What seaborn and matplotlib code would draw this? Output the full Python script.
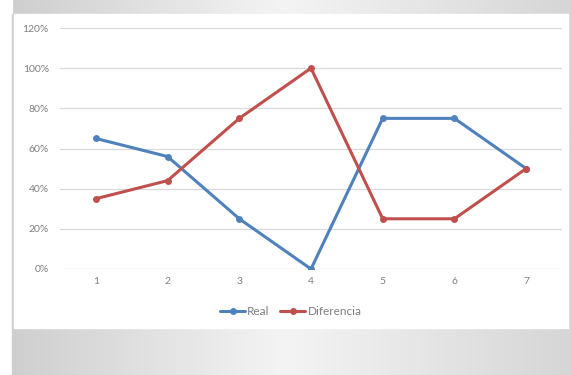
import numpy as np
import pandas as pd
import matplotlib.pyplot as plt
import seaborn as sns
from matplotlib.patches import Rectangle
from matplotlib.ticker import PercentFormatter

# Data
periods = [1, 2, 3, 4, 5, 6, 7]
real = [0.65, 0.56, 0.25, 0.00, 0.75, 0.75, 0.50]
diferencia = [0.35, 0.44, 0.75, 1.00, 0.25, 0.25, 0.50]
series_names = ['Real', 'Diferencia']
y_ticks = [0, 0.2, 0.4, 0.6, 0.8, 1.0, 1.2]

df = pd.DataFrame({
    'periodo': periods * 2,
    'valor': real + diferencia,
    'serie': [series_names[0]] * len(periods) + [series_names[1]] * len(periods),
})

sns.set_style('white')
plt.rcParams['font.family'] = ['Lato', 'DejaVu Sans']

W, H = 571, 375
fig = plt.figure(figsize=(W / 100, H / 100), dpi=100)
fig.patch.set_facecolor('white')

# grey slide background with a white chart panel on top
bg = fig.add_axes([0, 0, 1, 1], zorder=-2)
grad = np.linspace(0, 1, 256)
g = np.tile(grad, (64, 1))
bg.imshow(g, cmap=sns.blend_palette(['#cdcdcd', '#f4f4f4', '#d6d6d6'], as_cmap=True),
          aspect='auto', extent=[0, 1, 0, 1])
bg.add_patch(Rectangle((0, 0), 12 / W, 1, color='white', transform=bg.transAxes))
bg.add_patch(Rectangle((12 / W, 0), 2 / W, 1 - 14 / H, color='#cfcfcf', transform=bg.transAxes))
bg.add_patch(Rectangle((14 / W, (H - 328) / H), (568 - 14) / W, (328 - 14) / H,
                       color='white', transform=bg.transAxes))
bg.set_xlim(0, 1)
bg.set_ylim(0, 1)
bg.axis('off')

ax = fig.add_axes([60 / W, (H - 269) / H, (562 - 60) / W, (269 - 28) / H])
ax.set_facecolor('none')

palette = {'Real': '#4f81bd', 'Diferencia': '#c0504d'}
sns.lineplot(data=df, x='periodo', y='valor', hue='serie', palette=palette,
             marker='o', markersize=5, markeredgewidth=0, linewidth=2.2, ax=ax)

ax.set_xlim(0.5, 7.5)
ax.set_ylim(0, 1.2)
ax.set_xticks(periods)
ax.set_yticks(y_ticks)
ax.yaxis.set_major_formatter(PercentFormatter(1.0, decimals=0))
ax.grid(axis='y', color='#d9d9d9', linewidth=0.9)
ax.set_axisbelow(True)
for s in ax.spines.values():
    s.set_visible(False)
ax.tick_params(axis='both', length=0, labelsize=7.5, labelcolor='#7f7f7f')
ax.tick_params(axis='y', pad=8)
ax.tick_params(axis='x', pad=6)
ax.set_xlabel('')
ax.set_ylabel('')

leg = ax.legend(loc='center', bbox_to_anchor=(0.46, -0.177), ncol=2, frameon=False,
                fontsize=8.5, handlelength=2.1, handletextpad=0.2, columnspacing=0.9)
for t in leg.get_texts():
    t.set_color('#7f7f7f')

fig.savefig('out.png', dpi=100)
